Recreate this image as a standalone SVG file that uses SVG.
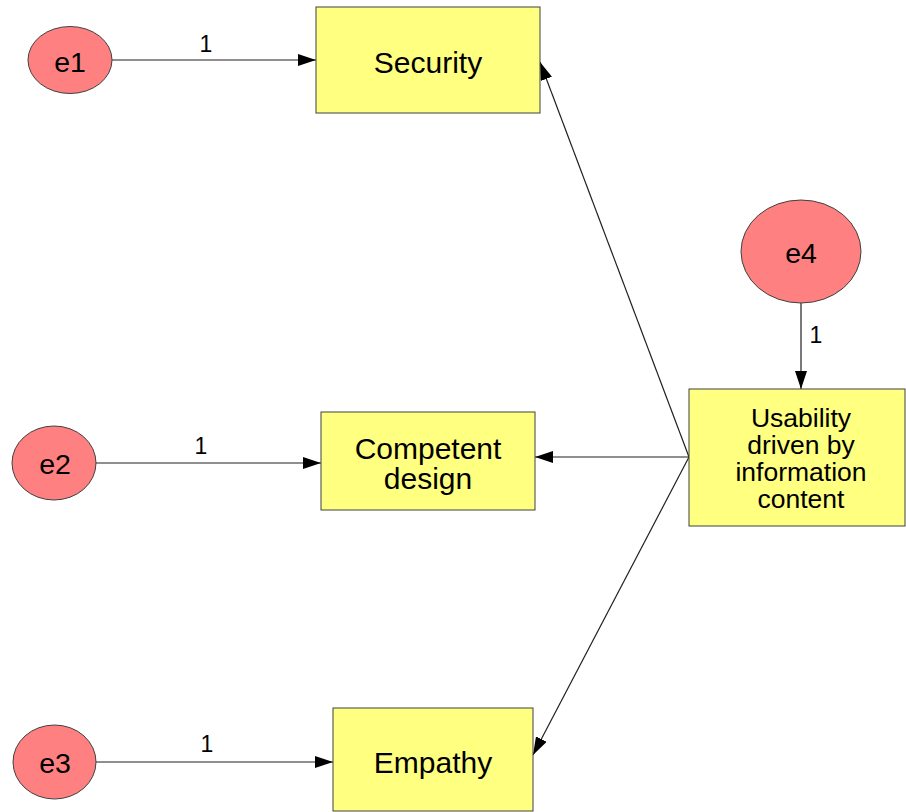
<svg xmlns="http://www.w3.org/2000/svg" width="906" height="812" viewBox="0 0 906 812">
  <style>
    .obs { fill: #ffff80; stroke: #404040; stroke-width: 1; }
    .err { fill: #ff8080; stroke: #404040; stroke-width: 1; }
    .lbl { font-family: "Liberation Sans", Arial, sans-serif; fill: #000; text-anchor: middle; }
    .big { font-size: 30px; }
    .mid { font-size: 28.5px; }
    .sm { font-size: 26.5px; }
    .wt { font-size: 23px; }
    .edge { stroke: #202020; stroke-width: 1.2; fill: none; marker-end: url(#arrow); }
  </style>
  <defs>
    <marker id="arrow" markerUnits="userSpaceOnUse" markerWidth="18" markerHeight="12" refX="18" refY="6" orient="auto">
      <path d="M0,0 L18,6 L0,12 z" fill="#000"/>
    </marker>
  </defs>
  <rect width="906" height="812" fill="#fff"/>

  <g id="connectors">
    <line class="edge" x1="112" y1="60" x2="316" y2="60"/>
    <line class="edge" x1="96" y1="463" x2="321" y2="463"/>
    <line class="edge" x1="96" y1="762" x2="333" y2="762"/>
    <line class="edge" x1="801" y1="303" x2="801" y2="389"/>
    <line class="edge" x1="689" y1="457" x2="540" y2="62"/>
    <line class="edge" x1="689" y1="457" x2="535" y2="457"/>
    <line class="edge" x1="689" y1="457" x2="533" y2="755"/>
    <text class="lbl wt" x="206" y="52">1</text>
    <text class="lbl wt" x="201" y="454">1</text>
    <text class="lbl wt" x="207" y="752">1</text>
    <text class="lbl wt" x="816" y="343">1</text>
  </g>

  <g id="e1">
    <ellipse class="err" cx="70" cy="60" rx="42" ry="33.5"/>
    <text class="lbl mid" x="70" y="72">e1</text>
  </g>
  <g id="e2">
    <ellipse class="err" cx="54" cy="463" rx="42" ry="37"/>
    <text class="lbl mid" x="55" y="474">e2</text>
  </g>
  <g id="e3">
    <ellipse class="err" cx="54.5" cy="762" rx="41.5" ry="37"/>
    <text class="lbl mid" x="55" y="773">e3</text>
  </g>
  <g id="e4">
    <ellipse class="err" cx="801" cy="251.5" rx="60" ry="51.5"/>
    <text class="lbl mid" x="801" y="263">e4</text>
  </g>

  <g id="security">
    <rect class="obs" x="316" y="7" width="224" height="106"/>
    <text class="lbl big" x="428" y="73">Security</text>
  </g>
  <g id="competent-design">
    <rect class="obs" x="321" y="412" width="214" height="98"/>
    <text class="lbl big" x="428" y="459">Competent</text>
    <text class="lbl big" x="428" y="489">design</text>
  </g>
  <g id="empathy">
    <rect class="obs" x="333" y="708" width="200" height="103"/>
    <text class="lbl big" x="433" y="773">Empathy</text>
  </g>
  <g id="usability">
    <rect class="obs" x="689" y="389" width="216" height="137"/>
    <text class="lbl sm" x="801" y="427">Usability</text>
    <text class="lbl sm" x="801" y="454">driven by</text>
    <text class="lbl sm" x="801" y="481">information</text>
    <text class="lbl sm" x="801" y="508">content</text>
  </g>
</svg>
